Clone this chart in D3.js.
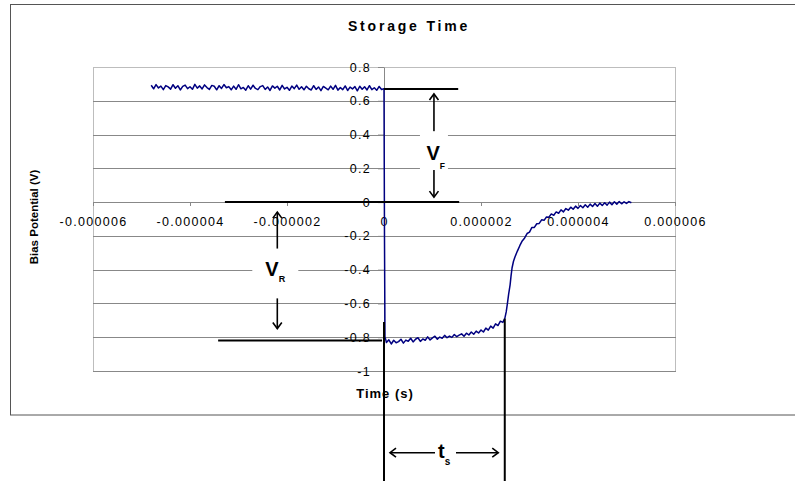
<!DOCTYPE html>
<html>
<head>
<meta charset="utf-8">
<script src="https://cdn.jsdelivr.net/npm/d3@7"></script>
<style>
  body { margin: 0; background: #fff; }
  svg { display: block; font-family: "Liberation Sans", Arial, sans-serif; }
  .tick text { font-size: 12.5px; letter-spacing: 1.3px; fill: #000; }
</style>
</head>
<body>
<div id="chart"></div>
<script>
// DATA (time in microseconds, bias in volts)
const forwardPoints = [
  [-4.80,0.692],[-4.75,0.671],[-4.70,0.696],[-4.65,0.676],[-4.60,0.687],[-4.55,0.666],[-4.50,0.690],[-4.45,0.682],
  [-4.40,0.669],[-4.35,0.695],[-4.30,0.674],[-4.25,0.689],[-4.20,0.664],[-4.15,0.685],[-4.10,0.693],[-4.05,0.672],
  [-4.00,0.683],[-3.95,0.668],[-3.90,0.697],[-3.85,0.675],[-3.80,0.688],[-3.75,0.670],[-3.70,0.694],[-3.65,0.678],
  [-3.60,0.667],[-3.55,0.691],[-3.50,0.686],[-3.45,0.665],[-3.40,0.689],[-3.35,0.673],[-3.30,0.696],[-3.25,0.677],
  [-3.20,0.684],[-3.15,0.665],[-3.10,0.687],[-3.05,0.668],[-3.00,0.695],[-2.95,0.671],[-2.90,0.679],[-2.85,0.663],
  [-2.80,0.689],[-2.75,0.669],[-2.70,0.692],[-2.65,0.673],[-2.60,0.666],[-2.55,0.684],[-2.50,0.690],[-2.45,0.667],
  [-2.40,0.682],[-2.35,0.661],[-2.30,0.688],[-2.25,0.675],[-2.20,0.686],[-2.15,0.664],[-2.10,0.691],[-2.05,0.670],
  [-2.00,0.680],[-1.95,0.662],[-1.90,0.687],[-1.85,0.672],[-1.80,0.693],[-1.75,0.668],[-1.70,0.683],[-1.65,0.665],
  [-1.60,0.686],[-1.55,0.671],[-1.50,0.664],[-1.45,0.689],[-1.40,0.667],[-1.35,0.682],[-1.30,0.660],[-1.25,0.685],
  [-1.20,0.675],[-1.15,0.665],[-1.10,0.687],[-1.05,0.668],[-1.00,0.691],[-0.95,0.663],[-0.90,0.678],[-0.85,0.666],
  [-0.80,0.688],[-0.75,0.661],[-0.70,0.681],[-0.65,0.670],[-0.60,0.684],[-0.55,0.659],[-0.50,0.686],[-0.45,0.668],
  [-0.40,0.683],[-0.35,0.664],[-0.30,0.689],[-0.25,0.666],[-0.20,0.677],[-0.15,0.662],[-0.10,0.685],[-0.05,0.667],
  [0.00,0.672]
];

const switchPoints = [[0.01,-0.20],[0.02,-0.80]];

const storagePoints = [
  [0.03,-0.808],[0.05,-0.831],[0.10,-0.815],[0.15,-0.840],[0.20,-0.818],[0.25,-0.833],[0.30,-0.826],[0.35,-0.812],
  [0.40,-0.835],[0.45,-0.817],[0.50,-0.824],[0.55,-0.806],[0.60,-0.828],[0.65,-0.812],[0.70,-0.803],[0.75,-0.825],
  [0.80,-0.810],[0.85,-0.818],[0.90,-0.798],[0.95,-0.816],[1.00,-0.804],[1.05,-0.794],[1.10,-0.812],[1.15,-0.799],
  [1.20,-0.806],[1.25,-0.789],[1.30,-0.803],[1.35,-0.793],[1.40,-0.801],[1.45,-0.784],[1.50,-0.797],[1.55,-0.788],
  [1.60,-0.780],[1.65,-0.794],[1.70,-0.776],[1.75,-0.787],[1.80,-0.769],[1.85,-0.782],[1.90,-0.764],[1.95,-0.775],
  [2.00,-0.757],[2.05,-0.769],[2.10,-0.746],[2.15,-0.758],[2.20,-0.734],[2.25,-0.746],[2.30,-0.721],[2.35,-0.731],
  [2.40,-0.705],[2.45,-0.712],[2.49,-0.690]
];

const recoveryPoints = [
  [2.52,-0.650],[2.545,-0.600],[2.57,-0.545],[2.60,-0.490],[2.62,-0.435],[2.64,-0.390],[2.67,-0.350],[2.70,-0.325],
  [2.75,-0.290],[2.80,-0.258],[2.85,-0.230],[2.90,-0.212],[2.95,-0.186],[3.00,-0.178],[3.05,-0.150],[3.10,-0.150],
  [3.15,-0.128],[3.20,-0.126],[3.25,-0.105],[3.30,-0.108],[3.35,-0.088],[3.40,-0.090],[3.45,-0.070],[3.50,-0.078],
  [3.55,-0.058],[3.60,-0.066],[3.65,-0.046],[3.70,-0.058],[3.75,-0.038],[3.80,-0.048],[3.85,-0.030],[3.90,-0.042],
  [3.95,-0.024],[4.00,-0.037],[4.05,-0.020],[4.10,-0.033],[4.15,-0.016],[4.20,-0.030],[4.25,-0.012],[4.30,-0.026],
  [4.35,-0.008],[4.40,-0.024],[4.45,-0.006],[4.50,-0.020],[4.55,-0.004],[4.60,-0.018],[4.65,0.000],[4.70,-0.015],
  [4.75,0.002],[4.80,-0.012],[4.85,0.003],[4.90,-0.010],[4.95,0.002],[5.00,-0.008],[5.05,0.003],[5.10,-0.004]
];

const xTicks = [-0.000006, -0.000004, -0.000002, 0, 0.000002, 0.000004, 0.000006];
const xTickLabels = ["-0.000006", "-0.000004", "-0.000002", "0", "0.000002", "0.000004", "0.000006"];
const yTicks = [0.8, 0.6, 0.4, 0.2, 0, -0.2, -0.4, -0.6, -0.8, -1];
const yTickLabels = ["0.8", "0.6", "0.4", "0.2", "0", "-0.2", "-0.4", "-0.6", "-0.8", "-1"];

// annotation levels
const vForward = 0.67;
const vReverse = -0.82;
const tStorage = 0.00000249;

// CHART
const svgWidth = 795, svgHeight = 481;
const margin = { top: 67, left: 93 };
const width = 582, height = 304;

const svg = d3.select("#chart").append("svg")
  .attr("width", svgWidth)
  .attr("height", svgHeight);

// outer chart border
svg.append("rect")
  .attr("x", 10.5).attr("y", 4.5)
  .attr("width", 800).attr("height", 410.5)
  .attr("fill", "none").attr("stroke", "#555").attr("stroke-width", 1);

svg.append("text")
  .attr("x", 409).attr("y", 31)
  .attr("text-anchor", "middle")
  .attr("font-size", 14).attr("font-weight", "bold")
  .attr("letter-spacing", 2.8)
  .text("Storage Time");

const chartGroup = svg.append("g")
  .attr("transform", `translate(${margin.left}, ${margin.top})`);

const x = d3.scaleLinear().domain([-0.000006, 0.000006]).range([0, width]);
const y = d3.scaleLinear().domain([-1, 0.8]).range([height, 0]);

// plot frame + gridlines
chartGroup.append("rect")
  .attr("x", 0.5).attr("y", 0.5).attr("width", width).attr("height", height)
  .attr("fill", "none").attr("stroke", "#bdbdbd");

chartGroup.append("g").selectAll("line")
  .data(yTicks.filter(v => v < 0.8))
  .enter().append("line")
  .attr("x1", 0).attr("x2", width + 1)
  .attr("y1", d => Math.round(y(d)) + 0.5).attr("y2", d => Math.round(y(d)) + 0.5)
  .attr("stroke", "#888");

// axes
const xAxis = d3.axisBottom(x).tickValues(xTicks)
  .tickFormat((d, i) => xTickLabels[i]).tickSize(4).tickSizeOuter(0).tickPadding(11);
const yAxis = d3.axisLeft(y).tickValues(yTicks)
  .tickFormat((d, i) => yTickLabels[i]).tickSize(6).tickSizeOuter(0).tickPadding(7);

const gx = chartGroup.append("g")
  .attr("transform", `translate(0, ${Math.round(y(0))})`)
  .call(xAxis);
const gy = chartGroup.append("g")
  .attr("transform", `translate(${Math.round(x(0))}, 0)`)
  .call(yAxis);
[gx, gy].forEach(g => {
  g.select(".domain").attr("stroke", "#888");
  g.selectAll(".tick line").attr("stroke", "#888");
  g.selectAll(".tick text").attr("font-family", null).attr("font-size", null);
});

// data trace
const trace = forwardPoints.concat(switchPoints, storagePoints, recoveryPoints);
const line = d3.line()
  .x(d => x(d[0] * 1e-6))
  .y(d => y(d[1]));

chartGroup.append("path")
  .datum(trace)
  .attr("fill", "none")
  .attr("stroke", "#000080")
  .attr("stroke-width", 1.5)
  .attr("stroke-linejoin", "round")
  .attr("d", line);

// axis titles
svg.append("text")
  .attr("transform", `translate(38, 217) rotate(-90)`)
  .attr("text-anchor", "middle")
  .attr("font-size", 11.5).attr("font-weight", "bold")
  .text("Bias Potential (V)");

svg.append("text")
  .attr("x", 385).attr("y", 398)
  .attr("text-anchor", "middle")
  .attr("font-size", 13).attr("font-weight", "bold")
  .attr("letter-spacing", 1)
  .text("Time (s)");

// ANNOTATIONS
const ann = chartGroup.append("g").attr("stroke", "#000").attr("fill", "none");
const x0 = x(0);
const xS = x(tStorage);

const hLine = (xa, xb, yy) => ann.append("line")
  .attr("x1", xa).attr("x2", xb).attr("y1", yy).attr("y2", yy).attr("stroke-width", 2);
const vLine = (xx, ya, yb) => ann.append("line")
  .attr("x1", xx).attr("x2", xx).attr("y1", ya).attr("y2", yb).attr("stroke-width", 2);

// arrow from (ax, ay) to tip (bx, by)
const arrow = function(ax, ay, bx, by) {
  const ang = Math.atan2(by - ay, bx - ax);
  const len = 6, half = 4.5;
  const hx = bx - len * Math.cos(ang), hy = by - len * Math.sin(ang);
  const px = -Math.sin(ang) * half, py = Math.cos(ang) * half;
  ann.append("line").attr("x1", ax).attr("y1", ay).attr("x2", bx).attr("y2", by).attr("stroke-width", 1.6);
  ann.append("path")
    .attr("d", `M${hx + px},${hy + py}L${bx},${by}L${hx - px},${hy - py}`)
    .attr("stroke-width", 1.6);
};

const label = function(cx, baseY, sub, box) {
  chartGroup.append("rect")
    .attr("x", box[0]).attr("y", box[1]).attr("width", box[2]).attr("height", box[3])
    .attr("fill", "#fff");
  const t = chartGroup.append("text")
    .attr("x", cx).attr("y", baseY)
    .attr("font-size", 20).attr("font-weight", "bold");
  t.append("tspan").text(sub[0]);
  t.append("tspan").attr("dy", sub[2]).attr("font-size", sub[3]).text(sub[1]);
};

// forward level, zero level, reverse level
hLine(x0, x(0.00000153), y(vForward));
hLine(x(-0.00000328), x(0.00000155), y(0));
hLine(x(-0.00000342), x(-0.00000004), y(vReverse));

// V_F
const xF = x(0.00000103);
label(xF - 7.5, y(0.247), ["V", "F", 9, 8.5], [xF - 14, y(0.42), 28, y(0.19) - y(0.42)]);
arrow(xF, y(0.4), xF, y(vForward) + 5);
arrow(xF, y(0.19), xF, y(0) - 5);

// V_R
const xR = x(-0.0000022);
label(xR - 12, y(-0.435), ["V", "R", 6.5, 9], [xR - 25, y(-0.28), 46, y(-0.56) - y(-0.28)]);
arrow(xR, y(-0.275), xR, y(0) + 10);
arrow(xR, y(-0.57), xR, y(vReverse) - 12);

// storage time markers
vLine(x0, y(-0.71), svgHeight - margin.top);
vLine(xS, y(-0.69), svgHeight - margin.top);

const yTs = 452.7 - margin.top;
arrow(x0 + 51, yTs, x0 + 6, yTs);
arrow(x0 + 72, yTs, xS - 6.5, yTs);
const ts = chartGroup.append("text")
  .attr("x", x0 + 54).attr("y", yTs + 5.5)
  .attr("font-size", 20).attr("font-weight", "bold");
ts.append("tspan").text("t");
ts.append("tspan").attr("dy", 6.5).attr("font-size", 10).text("s");
</script>
</body>
</html>
